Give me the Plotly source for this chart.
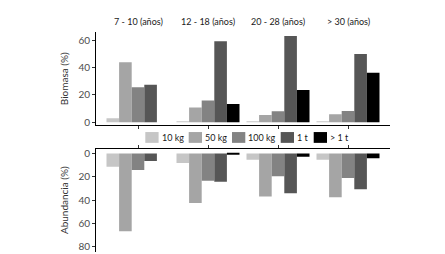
import plotly.graph_objects as go

# ---------------- data ----------------
groups = ["7 - 10 (años)", "12 - 18 (años)", "20 - 28 (años)", "> 30 (años)"]
sizes = ["10 kg", "50 kg", "100 kg", "1 t", "> 1 t"]

biomasa_10kg = [2.9, 0.4, 0.3, 0.3]
biomasa_50kg = [43.8, 10.8, 5.3, 5.8]
biomasa_100kg = [25.5, 15.9, 7.9, 8.2]
biomasa_1t = [27.4, 59.2, 63.0, 49.8]
biomasa_gt1t = [0.0, 13.2, 23.6, 36.1]

abund_10kg = [11.3, 8.2, 5.4, 5.4]
abund_50kg = [66.5, 42.3, 36.9, 37.5]
abund_100kg = [14.1, 23.4, 19.4, 21.1]
abund_1t = [6.5, 24.2, 34.1, 30.7]
abund_gt1t = [0.0, 0.5, 2.8, 4.2]

biomasa = [biomasa_10kg, biomasa_50kg, biomasa_100kg, biomasa_1t, biomasa_gt1t]
abund = [abund_10kg, abund_50kg, abund_100kg, abund_1t, abund_gt1t]

y_ticks_top = [0, 20, 40, 60]
y_ticks_bot = [0, 20, 40, 60, 80]

# ---------------- style ----------------
colors = ["#c6c6c6", "#a5a5a5", "#838383", "#565656", "#000000"]
FONT = "Lato"
W, H = 445, 254
L, R = 88, 63

def px_x(px):
    return (px - L) / (W - L - R)

def px_y(py):
    return 1 - py / H

fig = go.Figure()
for i, s in enumerate(sizes):
    fig.add_trace(go.Bar(x=groups, y=biomasa[i], name=s, marker_color=colors[i],
                         marker_line_width=0, xaxis="x", yaxis="y", showlegend=False))
    fig.add_trace(go.Bar(x=groups, y=abund[i], name=s, marker_color=colors[i],
                         marker_line_width=0, xaxis="x2", yaxis="y2", showlegend=False))

line_common = dict(showline=True, linecolor="#000000", linewidth=1, ticks="outside",
                   ticklen=3, tickcolor="#333333", tickwidth=1, showgrid=False,
                   zeroline=False)
tickfont = dict(family=FONT, size=10, color="#4d4d4d")
title_font = dict(family=FONT, size=10, color="#333333")

fig.update_layout(
    width=W, height=H,
    margin=dict(l=L, r=R, t=0, b=0),
    paper_bgcolor="white", plot_bgcolor="white",
    barmode="group", bargap=0.1, bargroupgap=0,
    xaxis=dict(domain=[0, 1], anchor="y", type="category", range=[-0.6, 3.6],
               showticklabels=False, **line_common),
    yaxis=dict(domain=[px_y(117), px_y(22.7)], anchor="x", range=[-2.2, 65.7],
               tickvals=y_ticks_top, tickfont=tickfont,
               title=dict(text="Biomasa (%)", standoff=7, font=title_font),
               **line_common),
    xaxis2=dict(domain=[0, 1], anchor="y2", type="category", range=[-0.6, 3.6], side="top",
                showticklabels=False, **line_common),
    yaxis2=dict(domain=[px_y(245.5), px_y(141)], anchor="x2", range=[84, -4],
                tickvals=y_ticks_bot, tickfont=tickfont,
                title=dict(text="Abundancia (%)", standoff=7, font=title_font),
                **line_common),
)

# facet labels
for g in groups:
    fig.add_annotation(x=g, xref="x", y=px_y(11.7), yref="paper", text=g, showarrow=False,
                       font=dict(family=FONT, size=9, color="#1a1a1a"),
                       xanchor="center", yanchor="middle")

# manual legend
legend_x = [137.3, 180.7, 224.0, 272.7, 305.7]
sw_w, y0, y1 = 13.3, 124, 135
for i, s in enumerate(sizes):
    fig.add_shape(type="rect", xref="paper", yref="paper",
                  x0=px_x(legend_x[i]), x1=px_x(legend_x[i] + sw_w),
                  y0=px_y(y1), y1=px_y(y0), fillcolor=colors[i], line_width=0)
    fig.add_annotation(x=px_x(legend_x[i] + sw_w + 1.0), xref="paper", y=px_y((y0 + y1) / 2),
                       yref="paper", text=s, showarrow=False, xanchor="left", yanchor="middle",
                       font=dict(family=FONT, size=9, color="#1a1a1a"))

fig.write_html("out.html")
